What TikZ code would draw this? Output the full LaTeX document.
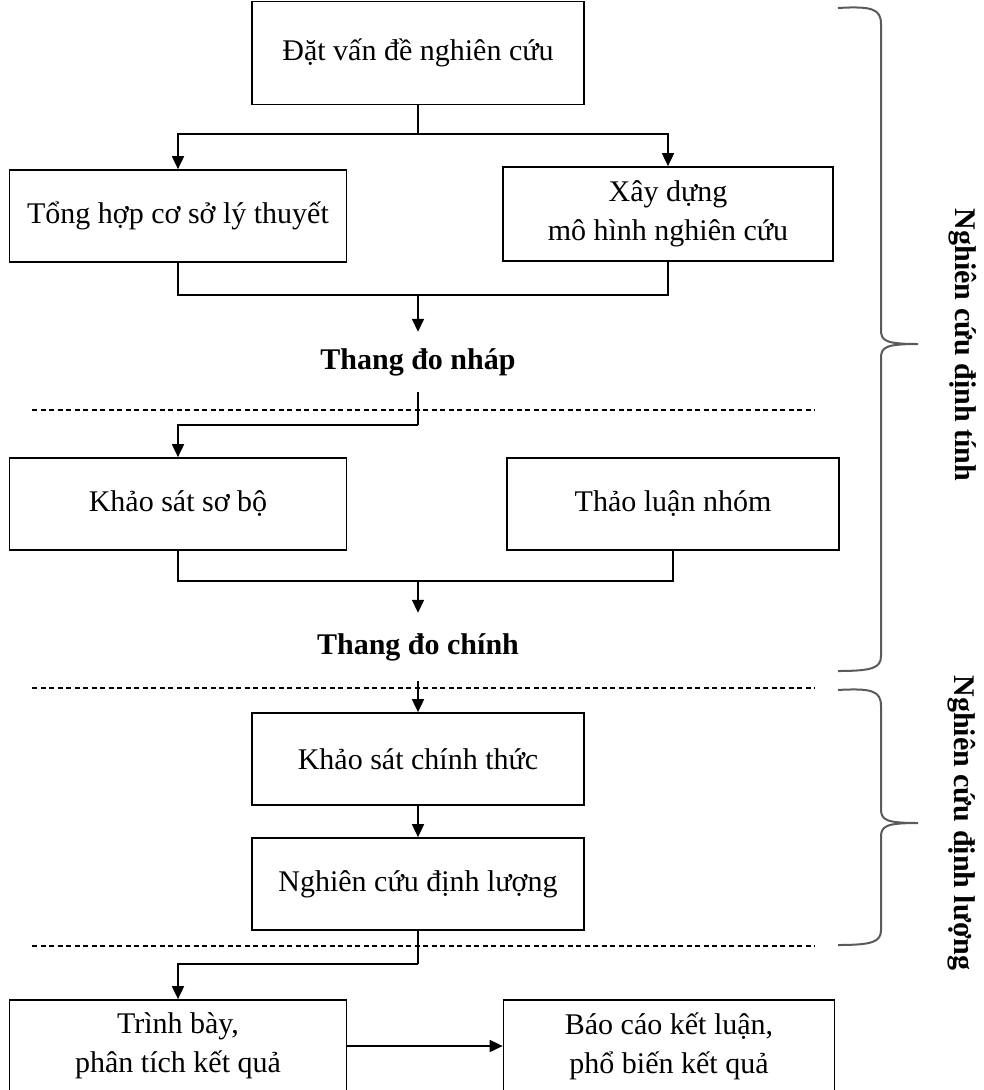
\documentclass[tikz,border=0pt]{standalone}
\usepackage{fontspec}
\setmainfont{Liberation Serif}
\usepackage{tikz}
\usetikzlibrary{arrows.meta}
\definecolor{braceGray}{RGB}{90,90,90}

\begin{document}
\begin{tikzpicture}[%
	x=1pt, y=-1pt,
	every node/.style={
		font=\fontsize{30}{39}\selectfont,
		align=center,
		inner sep=0pt,
	},
	box/.style={draw, line width=1.7pt, minimum height=92pt},
	scale label/.style={font=\fontsize{30}{39}\selectfont\bfseries},
	link/.style={line width=1.7pt},
	arr/.style={line width=1.7pt, -{Triangle[length=13pt,width=12pt]}},
	sep/.style={line width=1.3pt, dash pattern=on 5pt off 3.5pt},
	brc/.style={line width=2pt, braceGray},
	]
	\useasboundingbox (0,0) rectangle (984,1090);
	
	% draw boxes
	\node[box, minimum width=332pt, minimum height=103pt] (dat) at (418,53) {Đặt vấn đề nghiên cứu};
	\node[box, minimum width=337pt] (tonghop) at (178,216) {Tổng hợp cơ sở lý thuyết};
	\node[box, minimum width=330pt, minimum height=94pt] (xaydung) at (668,214) {Xây dựng\\mô hình nghiên cứu};
	\node[scale label, minimum height=60pt] (nhap) at (418,362) {Thang đo nháp};
	\node[box, minimum width=337pt] (ksb) at (178,504) {Khảo sát sơ bộ};
	\node[box, minimum width=332pt] (thaoluan) at (673,504) {Thảo luận nhóm};
	\node[scale label, minimum height=68pt] (chinh) at (418,647) {Thang đo chính};
	\node[box, minimum width=332pt] (ksct) at (418,759) {Khảo sát chính thức};
	\node[box, minimum width=332pt] (dinhluong) at (418,884) {Nghiên cứu định lượng};
	\node[box, minimum width=337pt] (trinhbay) at (178,1046) {Trình bày,\\phân tích kết quả};
	\node[box, minimum width=331pt] (baocao) at (669,1046) {Báo cáo kết luận,\\phổ biến kết quả};
	
	% draw junctions
	\coordinate (split1) at (418,134);
	\coordinate (join1) at (418,295);
	\coordinate (split2) at (418,425);
	\coordinate (join2) at (418,581);
	\coordinate (split3) at (418,964);
	
	% draw connectors
	\draw[link] (dat) -- (split1);
	\draw[arr] (split1) -| (tonghop);
	\draw[arr] (split1) -| (xaydung);
	\draw[link] (tonghop) |- (join1);
	\draw[link] (xaydung) |- (join1);
	\draw[arr] (join1) -- (nhap);
	\draw[link] (nhap) -- (split2);
	\draw[arr] (split2) -| (ksb);
	\draw[link] (ksb) |- (join2);
	\draw[link] (thaoluan) |- (join2);
	\draw[arr] (join2) -- (chinh);
	\draw[arr] (chinh) -- (ksct);
	\draw[arr] (ksct) -- (dinhluong);
	\draw[link] (dinhluong) -- (split3);
	\draw[arr] (split3) -| (trinhbay);
	\draw[arr] (trinhbay) -- (baocao);
	
	% draw dashed separators
	\draw[sep] (32,410) -- (815,410);
	\draw[sep] (32,688) -- (815,688);
	\draw[sep] (32,946) -- (815,946);
	
	% draw braces
	\draw[brc] (838,8) .. controls (872,6) and (881,9) .. (881,24) -- (881,330)
		.. controls (881,341) and (886,344) .. (918,344)
		.. controls (886,344) and (881,347) .. (881,358) -- (881,656)
		.. controls (881,668) and (872,671) .. (838,671);
	\draw[brc] (838,690) .. controls (872,688) and (881,691) .. (881,706) -- (881,809)
		.. controls (881,820) and (886,823) .. (918,823)
		.. controls (886,823) and (881,826) .. (881,837) -- (881,930)
		.. controls (881,942) and (872,945) .. (838,945);
	
	% place side labels
	\node[scale label, rotate=-90] (dinhtinh) at (963,345) {Nghiên cứu định tính};
	\node[scale label, rotate=-90] (dinhluongside) at (962,823) {Nghiên cứu định lượng};
\end{tikzpicture}
\end{document}
